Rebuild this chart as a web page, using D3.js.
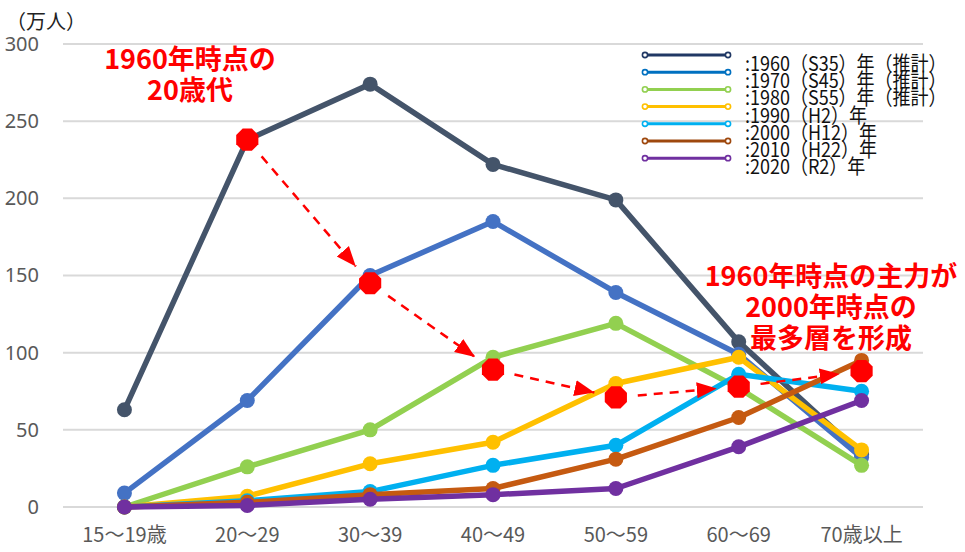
<!DOCTYPE html>
<html><head><meta charset="utf-8">
<script src="https://cdn.jsdelivr.net/npm/d3@7"></script>
<style>
html,body{margin:0;padding:0;background:#fff;}
svg{display:block;font-family:"Noto Sans CJK JP","Noto Sans",sans-serif;}
</style></head>
<body><svg id="chart" width="965" height="552"></svg>
<script>
const categories = ["15～19歳","20～29","30～39","40～49","50～59","60～69","70歳以上"];
const seriesNames = [":1960（S35）年（推計）",":1970（S45）年（推計）",":1980（S55）年（推計）",":1990（H2）年",":2000（H12）年",":2010（H22）年",":2020（R2）年"];
const lineColors = ["#44546A","#4472C4","#92D050","#FFC000","#00B0F0","#C55A11","#7030A0"];
const legendColors = ["#203864","#0070C0","#92D050","#FFC000","#00B0F0","#9E480E","#7030A0"];
const v1960 = [63, 238, 274, 222, 199, 107, 34];
const v1970 = [9, 69, 150, 185, 139, 99, 32];
const v1980 = [0, 26, 50, 97, 119, 77, 27];
const v1990 = [0, 7, 28, 42, 80, 97, 37];
const v2000 = [0, 4, 10, 27, 40, 86, 75];
const v2010 = [0, 3, 8, 12, 31, 58, 95];
const v2020 = [0, 1, 5, 8, 12, 39, 69];
const seriesValues = [v1960, v1970, v1980, v1990, v2000, v2010, v2020];
const cohortCats = ["20～29","30～39","40～49","50～59","60～69","70歳以上"];
const cohortValues = [238, 145, 89, 71, 78, 88];
const yTicks = [0, 50, 100, 150, 200, 250, 300];
const unitLabel = "（万人）";
const note1 = ["1960年時点の","20歳代"];
const note2 = ["1960年時点の主力が","2000年時点の","最多層を形成"];

const svg = d3.select("#chart");
const pLeft = 63, pRight = 923, pTop = 44, pBottom = 507;
const x = d3.scaleBand().domain(categories).range([pLeft, pRight]);
const y = d3.scaleLinear().domain([0, 300]).range([pBottom, pTop]);
const cx = c => x(c) + x.bandwidth()/2;

// gridlines
svg.append("g").selectAll("line").data(yTicks).join("line")
  .attr("x1", pLeft).attr("x2", pRight)
  .attr("y1", d => y(d)).attr("y2", d => y(d))
  .attr("stroke", "#D9D9D9").attr("stroke-width", 2);

// y axis
const yAxis = d3.axisLeft(y).tickValues(yTicks).tickSize(0).tickPadding(0);
const ga = svg.append("g").attr("transform", "translate(39,0)").call(yAxis);
ga.select(".domain").remove();
ga.selectAll("text").attr("fill", "#595959").attr("font-size", 20)
  .attr("font-family", "'Noto Sans','Noto Sans CJK JP',sans-serif");

// x axis
const xAxis = d3.axisBottom(x).tickSize(0).tickPadding(0);
const gx = svg.append("g").attr("transform", "translate(0,528)").call(xAxis);
gx.select(".domain").remove();
gx.selectAll("text").attr("fill", "#595959").attr("font-size", 20).attr("dy", "0.71em")
  .attr("font-family", "'Noto Sans CJK JP',sans-serif");

// unit label
svg.append("text").attr("x", 6).attr("y", 29).attr("font-size", 20).attr("fill", "#222").text(unitLabel);

// lines
const line = d3.line().x((d,i) => cx(categories[i])).y(d => y(d));
seriesValues.forEach((vals, si) => {
  const g = svg.append("g");
  g.append("path").datum(vals).attr("d", line).attr("fill", "none")
    .attr("stroke", lineColors[si]).attr("stroke-width", 5.5).attr("stroke-linejoin", "round");
  g.selectAll("circle").data(vals).join("circle")
    .attr("cx", (d,i) => cx(categories[i])).attr("cy", d => y(d)).attr("r", 7.5)
    .attr("fill", lineColors[si]);
});

// cohort arrows
const defs = svg.append("defs");
defs.append("marker").attr("id", "arr").attr("viewBox", "0 0 10 10")
  .attr("refX", 10).attr("refY", 5)
  .attr("markerUnits", "userSpaceOnUse").attr("orient", "auto")
  .attr("markerWidth", 20).attr("markerHeight", 20)
  .append("path").attr("d", "M0,1 L10,5 L0,9 Z").attr("fill", "#FF0000");

const pts = cohortCats.map((c,i) => [cx(c), y(cohortValues[i])]);
for (let i = 0; i < pts.length - 1; i++) {
  const [x0,y0] = pts[i], [x1,y1] = pts[i+1];
  const dx = x1-x0, dy = y1-y0, L = Math.hypot(dx,dy);
  const s = 22, e = 22;
  svg.append("line")
    .attr("x1", x0 + dx*s/L).attr("y1", y0 + dy*s/L)
    .attr("x2", x1 - dx*e/L).attr("y2", y1 - dy*e/L)
    .attr("stroke", "#FF0000").attr("stroke-width", 2.5)
    .attr("stroke-dasharray", "9,7").attr("marker-end", "url(#arr)");
}
// red octagons
const octa = r => d3.range(8).map(k => {
  const a = Math.PI/8 + k*Math.PI/4; return [r*Math.cos(a), r*Math.sin(a)];
});
svg.append("g").selectAll("path").data(pts).join("path")
  .attr("transform", d => `translate(${d[0]},${d[1]})`)
  .attr("d", "M" + octa(12).map(p => p.join(",")).join("L") + "Z")
  .attr("fill", "#FF0000");

// annotations
const noteStyle = sel => sel.attr("fill", "#FF0000").attr("font-weight", "bold")
  .attr("font-size", 27).attr("text-anchor", "middle");
svg.append("g").selectAll("text").data(note1).join("text")
  .attr("x", 190).attr("y", (d,i) => 69 + i*31).text(d => d).call(noteStyle);
svg.append("g").selectAll("text").data(note2).join("text")
  .attr("x", 831).attr("y", (d,i) => 286 + i*31).text(d => d).call(noteStyle);

// legend
const lg = svg.append("g");
seriesNames.forEach((name, i) => {
  const ly = 55 + i*17.2;
  lg.append("line").attr("x1", 645).attr("x2", 728).attr("y1", ly).attr("y2", ly)
    .attr("stroke", legendColors[i]).attr("stroke-width", 3);
  [645, 728].forEach(px => lg.append("circle").attr("cx", px).attr("cy", ly).attr("r", 2.6)
    .attr("fill", "#fff").attr("stroke", legendColors[i]).attr("stroke-width", 1.6));
  lg.append("text").attr("transform", `translate(745,${ly + 16}) scale(0.9,1)`)
    .attr("font-size", 20).attr("fill", "#111").text(name);
});
</script></body></html>
